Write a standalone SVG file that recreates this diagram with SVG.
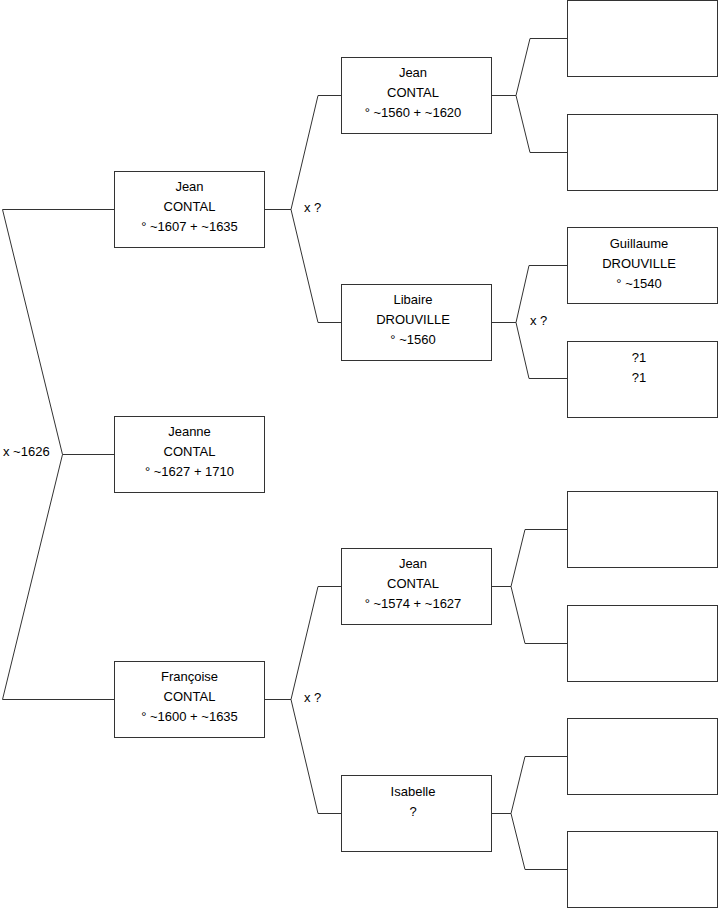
<svg xmlns="http://www.w3.org/2000/svg" width="719" height="908" viewBox="0 0 719 908">
<style>
rect{fill:#fff;stroke:#333;stroke-width:1}
.c path{fill:none;stroke:#333;stroke-width:1}
text{font-family:"Liberation Sans",Arial,sans-serif;font-size:13px;fill:#000;text-anchor:middle}
.l{text-anchor:start}
</style>
<rect x="0" y="0" width="719" height="908" style="fill:#fff;stroke:none"/>
<g class="c" id="connectors">
<path d="M114,209.5H2.5L62.5,454.5L2.5,699.5H114M62.5,454.5H114"/>
<path d="M265,209.5H291L318,95.5H341M291,209.5L318,322.5H341"/>
<path d="M265,699.5H291L318,586.5H341M291,699.5L318,813.5H341"/>
<path d="M492,95.5H516L530,38.5H567M516,95.5L530,152.5H567"/>
<path d="M492,322.5H516L529,265.5H567M516,322.5L529,378.5H567"/>
<path d="M492,586.5H511L525,529.5H567M511,586.5L525,643.5H567"/>
<path d="M492,813.5H511L525,756.5H567M511,813.5L525,869.5H567"/>
</g>
<g id="labels">
<text class="l" x="3" y="456">x ~1626</text>
<text class="l" x="304" y="212">x ?</text>
<text class="l" x="304" y="702">x ?</text>
<text class="l" x="530" y="325">x ?</text>
</g>
<g id="n1"><rect x="114.5" y="171.5" width="150" height="76"/><text x="189.5" y="191">Jean</text><text x="189.5" y="211">CONTAL</text><text x="189.5" y="231">° ~1607 + ~1635</text></g>
<g id="n2"><rect x="114.5" y="416.5" width="150" height="76"/><text x="189.5" y="436">Jeanne</text><text x="189.5" y="456">CONTAL</text><text x="189.5" y="476">° ~1627 + 1710</text></g>
<g id="n3"><rect x="114.5" y="661.5" width="150" height="76"/><text x="189.5" y="681">Françoise</text><text x="189.5" y="701">CONTAL</text><text x="189.5" y="721">° ~1600 + ~1635</text></g>
<g id="n4"><rect x="341.5" y="57.5" width="150" height="76"/><text x="413" y="77">Jean</text><text x="413" y="97">CONTAL</text><text x="413" y="117">° ~1560 + ~1620</text></g>
<g id="n5"><rect x="341.5" y="284.5" width="150" height="76"/><text x="413" y="304">Libaire</text><text x="413" y="324">DROUVILLE</text><text x="413" y="344">° ~1560</text></g>
<g id="n6"><rect x="341.5" y="548.5" width="150" height="76"/><text x="413" y="568">Jean</text><text x="413" y="588">CONTAL</text><text x="413" y="608">° ~1574 + ~1627</text></g>
<g id="n7"><rect x="341.5" y="775.5" width="150" height="76"/><text x="413" y="796">Isabelle</text><text x="413" y="816">?</text></g>
<g id="n8"><rect x="567.5" y="0.5" width="150" height="76"/></g>
<g id="n9"><rect x="567.5" y="114.5" width="150" height="76"/></g>
<g id="n10"><rect x="567.5" y="227.5" width="150" height="76"/><text x="639" y="248">Guillaume</text><text x="639" y="268">DROUVILLE</text><text x="639" y="288">° ~1540</text></g>
<g id="n11"><rect x="567.5" y="341.5" width="150" height="76"/><text x="639" y="362">?1</text><text x="639" y="382">?1</text></g>
<g id="n12"><rect x="567.5" y="491.5" width="150" height="76"/></g>
<g id="n13"><rect x="567.5" y="605.5" width="150" height="76"/></g>
<g id="n14"><rect x="567.5" y="718.5" width="150" height="76"/></g>
<g id="n15"><rect x="567.5" y="831.5" width="150" height="76"/></g>
</svg>
